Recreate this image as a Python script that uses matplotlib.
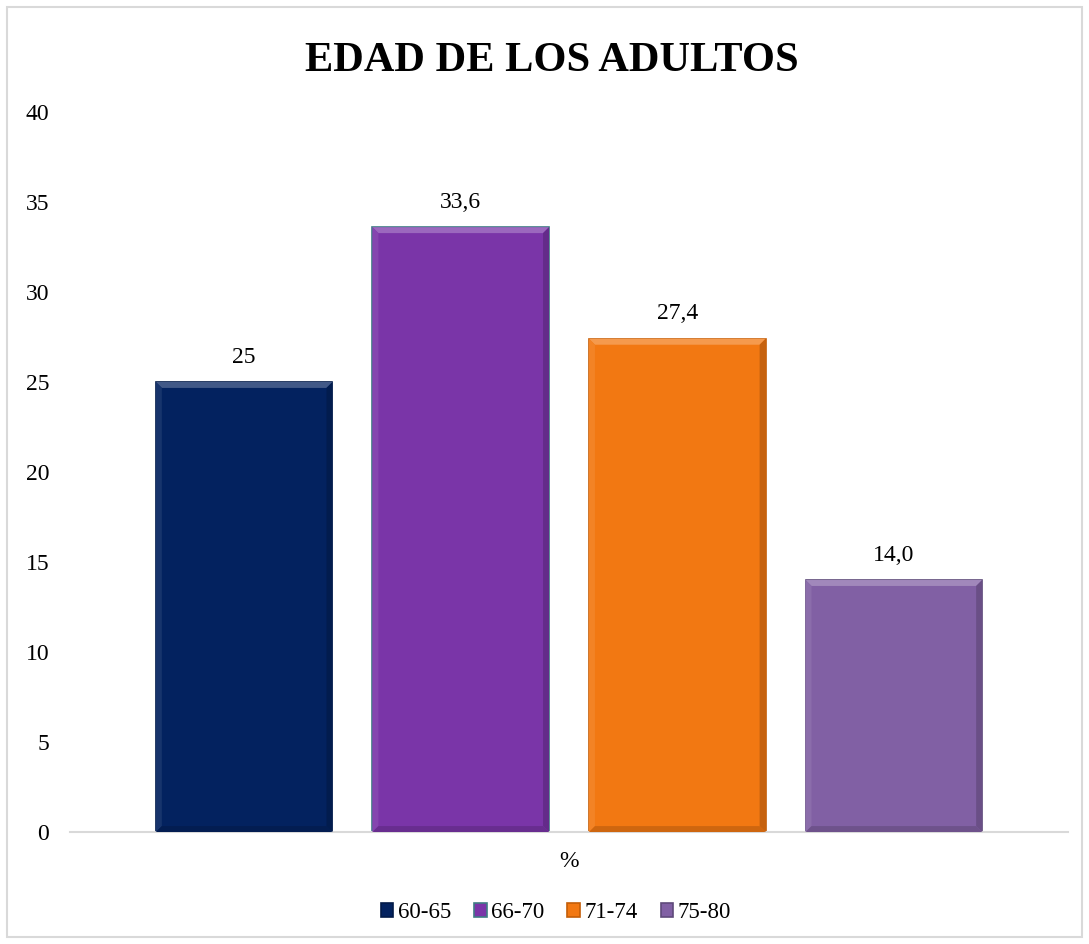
import numpy as np
import matplotlib.pyplot as plt
from matplotlib.patches import Polygon, Rectangle
from matplotlib.colors import to_rgb

plt.rcParams['font.family'] = ['Liberation Serif', 'DejaVu Serif']

TITLE = "EDAD DE LOS ADULTOS"
CATEGORY = "%"
SERIES = ["60-65", "66-70", "71-74", "75-80"]
VALUES = [25.0, 33.6, 27.4, 14.0]
VALUE_LABELS = ["25", "33,6", "27,4", "14,0"]
COLORS = ["#03225F", "#7A35A8", "#F27812", "#8160A4"]
EDGES = ["#021A48", "#3F7C84", "#C45E08", "#5F4A7A"]
Y_TICKS = [0, 5, 10, 15, 20, 25, 30, 35, 40]


def shade(color, factor):
    r, g, b = to_rgb(color)
    if factor >= 1:
        f = factor - 1
        return (r + (1 - r) * f, g + (1 - g) * f, b + (1 - b) * f)
    return (r * factor, g * factor, b * factor)


def add_bevel(ax, patch, color, bx, by):
    # simple "angle" bevel: lighter top/left, darker right/bottom
    x0, y0 = patch.get_x(), patch.get_y()
    x1, y1 = x0 + patch.get_width(), y0 + patch.get_height()
    pieces = [
        ([(x0, y1), (x1, y1), (x1 - bx, y1 - by), (x0 + bx, y1 - by)], shade(color, 1.25)),
        ([(x0, y0), (x0, y1), (x0 + bx, y1 - by), (x0 + bx, y0 + by)], shade(color, 1.08)),
        ([(x1, y0), (x1, y1), (x1 - bx, y1 - by), (x1 - bx, y0 + by)], shade(color, 0.82)),
        ([(x0, y0), (x1, y0), (x1 - bx, y0 + by), (x0 + bx, y0 + by)], shade(color, 0.85)),
    ]
    for pts, c in pieces:
        ax.add_patch(Polygon(pts, closed=True, facecolor=c, edgecolor="none", zorder=3))


fig = plt.figure(figsize=(10.89, 9.44), dpi=100)
fig.patches.append(Rectangle((0.0065, 0.0075), 0.987, 0.985, transform=fig.transFigure,
                             fill=False, edgecolor="#D9D9D9", linewidth=1.5))

ax = fig.add_axes([0.0643, 0.1186, 0.9164, 0.7628])

width = 0.177
step = 0.217
offsets = (np.arange(len(SERIES)) - 1.5) * step

handles = []
for i, (name, val) in enumerate(zip(SERIES, VALUES)):
    bars = ax.bar(offsets[i], val, width=width, color=COLORS[i], edgecolor=EDGES[i],
                  linewidth=1.2, label=name, zorder=2)
    handles.append(bars)
    add_bevel(ax, bars[0], COLORS[i], 0.006, 0.33)
    ax.text(offsets[i], val + 0.8, VALUE_LABELS[i], ha="center", va="bottom",
            fontsize=17, color="#000000")

ax.set_xlim(-0.5, 0.5)
ax.set_ylim(0, 40)
ax.set_yticks(Y_TICKS)
ax.set_yticklabels([str(t) for t in Y_TICKS], fontsize=17)
ax.set_xticks([0])
ax.set_xticklabels([CATEGORY], fontsize=17)
ax.tick_params(axis="y", length=0, pad=15)
ax.tick_params(axis="x", length=0, pad=14)

for side in ["top", "right", "left"]:
    ax.spines[side].set_visible(False)
ax.spines["bottom"].set_color("#D9D9D9")
ax.spines["bottom"].set_linewidth(1.5)

fig.text(0.507, 0.925, TITLE, fontsize=30.5, fontweight="bold", ha="center", va="baseline")

fig.legend(handles=handles, labels=SERIES, loc="center", bbox_to_anchor=(0.5106, 0.033),
           ncol=4, frameon=False, fontsize=16.5, handlelength=0.55, handleheight=0.55,
           handletextpad=0.2, columnspacing=1.0)

fig.savefig("out.png", dpi=100)
